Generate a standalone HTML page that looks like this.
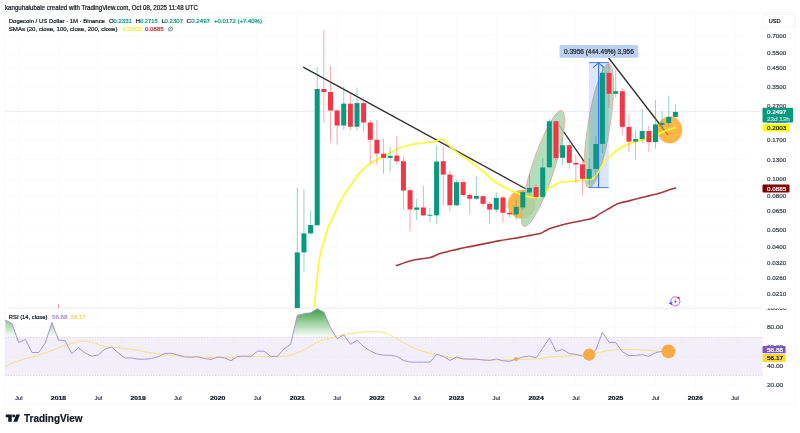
<!DOCTYPE html>
<html><head><meta charset="utf-8"><title>DOGEUSD chart</title>
<style>html,body{margin:0;padding:0;background:#fff;width:800px;height:433px;overflow:hidden}svg{display:block;filter:blur(0.45px)}</style>
</head><body>
<svg width="800" height="433" viewBox="0 0 800 433" font-family="'Liberation Sans', sans-serif">
<defs>
<linearGradient id="gg" gradientUnits="userSpaceOnUse" x1="0" y1="309.75" x2="0" y2="337.4">
<stop offset="0" stop-color="#43a047" stop-opacity="1"/><stop offset="1" stop-color="#4caf50" stop-opacity="0"/>
</linearGradient>
<clipPath id="mainclip"><rect x="5" y="13" width="757" height="295.2"/></clipPath>
<clipPath id="axclip"><rect x="760" y="308.6" width="40" height="20"/></clipPath>
<clipPath id="rsiclip"><rect x="5" y="308.2" width="757" height="80"/></clipPath>
</defs>
<rect width="800" height="433" fill="#fff"/>
<!-- frame -->
<rect x="4.5" y="12.5" width="791" height="391.5" fill="none" stroke="#f7f8fa" stroke-width="1"/>
<rect x="763" y="14.5" width="31.5" height="13" rx="1.5" fill="none" stroke="#f4f5f7" stroke-width="1"/>
<line x1="18.7" y1="13" x2="18.7" y2="388" stroke="#fafbfc" stroke-width="1"/>
<line x1="58.5" y1="13" x2="58.5" y2="388" stroke="#fafbfc" stroke-width="1"/>
<line x1="98.3" y1="13" x2="98.3" y2="388" stroke="#fafbfc" stroke-width="1"/>
<line x1="138.1" y1="13" x2="138.1" y2="388" stroke="#fafbfc" stroke-width="1"/>
<line x1="177.9" y1="13" x2="177.9" y2="388" stroke="#fafbfc" stroke-width="1"/>
<line x1="217.7" y1="13" x2="217.7" y2="388" stroke="#fafbfc" stroke-width="1"/>
<line x1="257.5" y1="13" x2="257.5" y2="388" stroke="#fafbfc" stroke-width="1"/>
<line x1="297.3" y1="13" x2="297.3" y2="388" stroke="#fafbfc" stroke-width="1"/>
<line x1="337.1" y1="13" x2="337.1" y2="388" stroke="#fafbfc" stroke-width="1"/>
<line x1="376.9" y1="13" x2="376.9" y2="388" stroke="#fafbfc" stroke-width="1"/>
<line x1="416.7" y1="13" x2="416.7" y2="388" stroke="#fafbfc" stroke-width="1"/>
<line x1="456.5" y1="13" x2="456.5" y2="388" stroke="#fafbfc" stroke-width="1"/>
<line x1="496.3" y1="13" x2="496.3" y2="388" stroke="#fafbfc" stroke-width="1"/>
<line x1="536.1" y1="13" x2="536.1" y2="388" stroke="#fafbfc" stroke-width="1"/>
<line x1="575.9" y1="13" x2="575.9" y2="388" stroke="#fafbfc" stroke-width="1"/>
<line x1="615.7" y1="13" x2="615.7" y2="388" stroke="#fafbfc" stroke-width="1"/>
<line x1="655.5" y1="13" x2="655.5" y2="388" stroke="#fafbfc" stroke-width="1"/>
<line x1="695.3" y1="13" x2="695.3" y2="388" stroke="#fafbfc" stroke-width="1"/>
<line x1="735.1" y1="13" x2="735.1" y2="388" stroke="#fafbfc" stroke-width="1"/>
<line x1="5" y1="35.6" x2="748" y2="35.6" stroke="#fafbfc" stroke-width="1"/>
<line x1="5" y1="53.4" x2="748" y2="53.4" stroke="#fafbfc" stroke-width="1"/>
<line x1="5" y1="68.2" x2="748" y2="68.2" stroke="#fafbfc" stroke-width="1"/>
<line x1="5" y1="86.7" x2="748" y2="86.7" stroke="#fafbfc" stroke-width="1"/>
<line x1="5" y1="105.8" x2="748" y2="105.8" stroke="#fafbfc" stroke-width="1"/>
<line x1="5" y1="120.9" x2="748" y2="120.9" stroke="#fafbfc" stroke-width="1"/>
<line x1="5" y1="139.9" x2="748" y2="139.9" stroke="#fafbfc" stroke-width="1"/>
<line x1="5" y1="159.7" x2="748" y2="159.7" stroke="#fafbfc" stroke-width="1"/>
<line x1="5" y1="179.1" x2="748" y2="179.1" stroke="#fafbfc" stroke-width="1"/>
<line x1="5" y1="195.5" x2="748" y2="195.5" stroke="#fafbfc" stroke-width="1"/>
<line x1="5" y1="210.8" x2="748" y2="210.8" stroke="#fafbfc" stroke-width="1"/>
<line x1="5" y1="230.2" x2="748" y2="230.2" stroke="#fafbfc" stroke-width="1"/>
<line x1="5" y1="246.6" x2="748" y2="246.6" stroke="#fafbfc" stroke-width="1"/>
<line x1="5" y1="263.1" x2="748" y2="263.1" stroke="#fafbfc" stroke-width="1"/>
<line x1="5" y1="278.4" x2="748" y2="278.4" stroke="#fafbfc" stroke-width="1"/>
<line x1="5" y1="294.1" x2="748" y2="294.1" stroke="#fafbfc" stroke-width="1"/>
<line x1="5" y1="327.4" x2="748" y2="327.4" stroke="#fafbfc" stroke-width="1"/>
<line x1="5" y1="346.6" x2="748" y2="346.6" stroke="#fafbfc" stroke-width="1"/>
<line x1="5" y1="365.8" x2="748" y2="365.8" stroke="#fafbfc" stroke-width="1"/>
<line x1="5" y1="385.0" x2="748" y2="385.0" stroke="#fafbfc" stroke-width="1"/>
<!-- price line -->
<line x1="5" y1="111.3" x2="762" y2="111.3" stroke="#e9ebef" stroke-width="1"/>
<!-- pane separator -->
<line x1="8" y1="308.2" x2="762" y2="308.2" stroke="#e9ebef" stroke-width="1"/>
<!-- RSI band -->
<rect x="5" y="337.4" width="757.5" height="38.0" fill="#f2eefa"/>
<line x1="5" y1="337.4" x2="762.5" y2="337.4" stroke="#d6cdeb" stroke-width="0.9" stroke-dasharray="1.3 1.5"/>
<line x1="5" y1="375.4" x2="762.5" y2="375.4" stroke="#d6cdeb" stroke-width="0.9" stroke-dasharray="1.3 1.5"/>
<line x1="5" y1="356.6" x2="762.5" y2="356.6" stroke="#ebe6f6" stroke-width="0.8" stroke-dasharray="1.6 1.6"/>
<g clip-path="url(#rsiclip)">
<path d="M5.45 337.40 L5.45 320.00 L12.10 323.75 L16.90 337.40 Z" fill="url(#gg)"/>
<path d="M47.07 337.40 L51.90 322.50 L57.52 337.40 Z" fill="url(#gg)"/>
<path d="M292.22 337.40 L297.30 315.40 L303.90 313.70 L310.60 312.80 L317.20 308.80 L323.80 312.00 L330.50 327.50 L336.28 337.40 Z" fill="url(#gg)"/>
<path d="M339.41 337.40 L343.70 334.80 L345.53 337.40 Z" fill="url(#gg)"/>
<path d="M600.47 337.40 L602.40 332.20 L605.78 337.40 Z" fill="url(#gg)"/>
<path d="M5.00 367.00 C6.25 366.33 9.17 364.38 12.50 363.00 C15.83 361.62 20.83 359.98 25.00 358.75 C29.17 357.52 33.33 356.85 37.50 355.60 C41.67 354.35 45.83 352.81 50.00 351.25 C54.17 349.69 58.33 347.71 62.50 346.25 C66.67 344.79 71.92 343.33 75.00 342.50 C78.08 341.67 78.92 341.42 81.00 341.25 C83.08 341.08 85.17 341.21 87.50 341.50 C89.83 341.79 92.92 342.38 95.00 343.00 C97.08 343.62 97.33 344.55 100.00 345.25 C102.67 345.95 107.67 346.74 111.00 347.20 C114.33 347.66 116.00 347.57 120.00 348.00 C124.00 348.43 130.00 348.96 135.00 349.75 C140.00 350.54 145.00 351.96 150.00 352.75 C155.00 353.54 160.00 354.00 165.00 354.50 C170.00 355.00 175.00 355.42 180.00 355.75 C185.00 356.08 190.00 356.21 195.00 356.50 C200.00 356.79 203.33 357.42 210.00 357.50 C216.67 357.58 226.67 357.15 235.00 357.00 C243.33 356.85 252.50 356.70 260.00 356.60 C267.50 356.50 275.00 356.60 280.00 356.40 C285.00 356.20 287.17 355.97 290.00 355.40 C292.83 354.83 294.67 353.90 297.00 353.00 C299.33 352.10 301.75 351.13 304.00 350.00 C306.25 348.87 308.33 347.50 310.50 346.20 C312.67 344.90 314.92 343.23 317.00 342.20 C319.08 341.17 320.83 340.67 323.00 340.00 C325.17 339.33 327.17 338.98 330.00 338.20 C332.83 337.42 336.67 336.07 340.00 335.30 C343.33 334.53 346.67 334.08 350.00 333.60 C353.33 333.12 356.67 332.70 360.00 332.40 C363.33 332.10 367.17 331.90 370.00 331.80 C372.83 331.70 374.50 331.65 377.00 331.80 C379.50 331.95 382.50 331.97 385.00 332.70 C387.50 333.43 389.50 334.87 392.00 336.20 C394.50 337.53 397.00 339.07 400.00 340.70 C403.00 342.33 406.67 344.38 410.00 346.00 C413.33 347.62 416.67 349.22 420.00 350.40 C423.33 351.58 426.67 352.30 430.00 353.10 C433.33 353.90 436.67 354.47 440.00 355.20 C443.33 355.93 446.67 356.92 450.00 357.50 C453.33 358.08 455.83 358.42 460.00 358.70 C464.17 358.98 470.00 359.00 475.00 359.20 C480.00 359.40 485.00 359.77 490.00 359.90 C495.00 360.03 500.00 360.05 505.00 360.00 C510.00 359.95 514.83 359.77 520.00 359.60 C525.17 359.43 531.00 359.43 536.00 359.00 C541.00 358.57 545.17 357.50 550.00 357.00 C554.83 356.50 560.00 356.30 565.00 356.00 C570.00 355.70 575.83 355.42 580.00 355.20 C584.17 354.98 586.67 355.20 590.00 354.70 C593.33 354.20 596.67 352.92 600.00 352.20 C603.33 351.48 606.67 350.85 610.00 350.40 C613.33 349.95 615.83 349.62 620.00 349.50 C624.17 349.38 630.00 349.53 635.00 349.70 C640.00 349.87 645.83 350.25 650.00 350.50 C654.17 350.75 655.77 351.08 660.00 351.20 C664.23 351.32 672.83 351.20 675.40 351.20" fill="none" stroke="#f4e07c" stroke-width="0.95"/>
<polyline points="5.45,320.00 12.10,323.75 18.70,342.50 25.35,339.40 32.00,352.50 38.60,352.50 45.25,343.00 51.90,322.50 58.50,340.00 65.10,340.60 71.80,353.75 78.40,347.75 85.00,353.00 91.70,356.00 98.30,355.00 105.00,349.00 111.60,347.00 118.20,352.75 124.80,358.00 131.50,358.00 138.10,359.20 144.70,359.20 151.40,358.50 158.00,356.80 164.60,353.50 171.30,353.20 177.90,355.00 184.50,357.00 191.20,357.25 197.80,356.80 204.40,358.60 211.10,359.50 217.70,357.00 224.30,357.80 231.00,360.75 237.60,356.40 244.20,356.00 250.90,356.40 257.50,351.20 264.10,351.20 270.80,356.40 277.40,356.40 284.00,349.00 290.70,344.00 297.30,315.40 303.90,313.70 310.60,312.80 317.20,308.80 323.80,312.00 330.50,327.50 337.10,338.80 343.70,334.80 350.40,344.30 357.00,340.20 363.60,346.60 370.30,350.90 376.90,354.00 383.50,355.20 390.20,355.20 396.80,356.40 403.40,360.40 410.10,362.10 416.70,362.10 423.30,362.10 430.00,362.10 436.60,354.40 443.20,356.40 449.90,360.40 456.50,357.00 463.10,359.00 469.80,359.20 476.40,359.20 483.00,360.00 489.70,360.40 496.30,359.00 502.90,360.75 509.60,361.30 516.20,359.00 522.80,357.00 529.50,356.00 536.10,357.80 542.70,348.30 549.40,337.90 556.00,351.40 562.60,349.50 569.30,353.50 575.90,354.40 582.50,356.00 589.20,355.50 595.80,350.00 602.40,332.20 609.10,342.50 615.70,342.50 622.30,351.75 629.00,355.50 635.60,355.50 642.20,354.70 648.90,356.40 655.50,352.60 662.10,351.40 668.80,351.40 675.40,350.40" fill="none" stroke="#a995da" stroke-width="1.0" stroke-linejoin="round"/>
<circle cx="516" cy="359" r="2.1" fill="#f6a43a" opacity="0.9"/>
<circle cx="589.2" cy="354.7" r="6.1" fill="#f6a83c" opacity="0.95"/>
<circle cx="668.4" cy="351.4" r="6.9" fill="#f6a83c" opacity="0.95"/>
</g>
<g clip-path="url(#mainclip)">
<!-- drawings behind candles -->
<line x1="303.2" y1="67.1" x2="526.5" y2="189.2" stroke="#2e2e2e" stroke-width="1.3"/>
<line x1="558.9" y1="124.9" x2="584.4" y2="161.9" stroke="#2e2e2e" stroke-width="1.2"/>
<line x1="608.5" y1="57.75" x2="668" y2="135" stroke="#2e2e2e" stroke-width="1.3"/>
<ellipse cx="521.6" cy="204.4" rx="13.8" ry="14.4" fill="rgba(255,152,0,0.72)"/>
<ellipse cx="669.8" cy="129.9" rx="12.5" ry="13.4" fill="rgba(255,152,0,0.72)"/>
<ellipse cx="542.9" cy="168.5" rx="61" ry="11.3" transform="rotate(-71.9 542.9 168.5)" fill="rgba(162,213,175,0.82)" stroke="rgba(239,150,140,0.7)" stroke-width="0.9"/>
<ellipse cx="598.9" cy="125.8" rx="62.9" ry="11.1" transform="rotate(-80.9 598.9 125.8)" fill="rgba(162,213,175,0.82)" stroke="rgba(239,150,140,0.7)" stroke-width="0.9"/>
<rect x="588.9" y="62.6" width="19.9" height="125" fill="rgba(41,98,255,0.17)"/>
<line x1="588.9" y1="62.6" x2="608.8" y2="62.6" stroke="#4a7df0" stroke-width="1"/>
<line x1="588.9" y1="187.6" x2="608.8" y2="187.6" stroke="#4a7df0" stroke-width="1"/>
<line x1="598.6" y1="62.8" x2="598.6" y2="187.6" stroke="#3a70f0" stroke-width="1.1"/>
<path d="M593 67.6 L598.6 62.9 L604.2 67.6" fill="none" stroke="#3a70f0" stroke-width="1.1"/>
<path d="M396.40 265.60 C398.67 264.83 406.07 262.10 410.00 261.00 C413.93 259.90 416.67 259.57 420.00 259.00 C423.33 258.43 426.67 258.50 430.00 257.60 C433.33 256.70 436.67 254.70 440.00 253.60 C443.33 252.50 446.67 251.83 450.00 251.00 C453.33 250.17 456.67 249.33 460.00 248.60 C463.33 247.87 466.67 247.27 470.00 246.60 C473.33 245.93 476.67 245.27 480.00 244.60 C483.33 243.93 486.67 243.27 490.00 242.60 C493.33 241.93 496.67 241.20 500.00 240.60 C503.33 240.00 506.67 239.53 510.00 239.00 C513.33 238.47 516.67 238.00 520.00 237.40 C523.33 236.80 526.67 236.07 530.00 235.40 C533.33 234.73 537.50 234.13 540.00 233.40 C542.50 232.67 543.33 231.80 545.00 231.00 C546.67 230.20 547.50 229.50 550.00 228.60 C552.50 227.70 556.67 226.53 560.00 225.60 C563.33 224.67 566.67 223.77 570.00 223.00 C573.33 222.23 576.67 221.67 580.00 221.00 C583.33 220.33 587.50 219.67 590.00 219.00 C592.50 218.33 593.33 217.90 595.00 217.00 C596.67 216.10 597.50 215.10 600.00 213.60 C602.50 212.10 607.50 209.43 610.00 208.00 C612.50 206.57 613.33 205.83 615.00 205.00 C616.67 204.17 617.50 203.73 620.00 203.00 C622.50 202.27 626.67 201.43 630.00 200.60 C633.33 199.77 636.67 198.83 640.00 198.00 C643.33 197.17 646.67 196.43 650.00 195.60 C653.33 194.77 656.67 194.00 660.00 193.00 C663.33 192.00 667.40 190.43 670.00 189.60 C672.60 188.77 674.67 188.27 675.60 188.00" fill="none" stroke="#a33a40" stroke-width="1.6" stroke-linecap="round"/>
<path d="M313.75 308.20 C314.17 304.75 315.62 293.03 316.25 287.50 C316.88 281.97 316.88 280.33 317.50 275.00 C318.12 269.67 318.75 261.67 320.00 255.50 C321.25 249.33 323.65 242.70 325.00 238.00 C326.35 233.30 326.72 230.82 328.10 227.30 C329.48 223.78 331.38 221.05 333.30 216.90 C335.22 212.75 337.69 206.22 339.60 202.40 C341.51 198.58 342.85 196.95 344.75 194.00 C346.65 191.05 349.09 187.47 351.00 184.70 C352.91 181.93 354.30 179.83 356.20 177.40 C358.10 174.97 360.32 172.25 362.40 170.10 C364.48 167.95 366.62 166.05 368.70 164.50 C370.78 162.95 372.83 161.93 374.90 160.80 C376.97 159.67 379.42 158.52 381.10 157.70 C382.78 156.88 382.27 157.39 385.00 155.90 C387.73 154.41 393.33 150.57 397.50 148.75 C401.67 146.93 405.83 145.96 410.00 145.00 C414.17 144.04 418.30 143.62 422.50 143.00 C426.70 142.38 431.85 141.92 435.20 141.30 C438.55 140.68 440.05 138.38 442.60 139.30 C445.15 140.22 448.03 144.58 450.50 146.80 C452.97 149.02 454.65 150.57 457.40 152.60 C460.15 154.63 464.07 156.90 467.00 159.00 C469.93 161.10 472.21 163.03 475.00 165.20 C477.79 167.37 481.08 169.74 483.75 172.00 C486.42 174.26 488.29 176.58 491.00 178.75 C493.71 180.92 496.83 183.12 500.00 185.00 C503.17 186.88 506.67 188.47 510.00 190.00 C513.33 191.53 517.17 193.15 520.00 194.20 C522.83 195.25 524.67 195.73 527.00 196.30 C529.33 196.87 532.00 197.43 534.00 197.60 C536.00 197.77 537.17 198.13 539.00 197.30 C540.83 196.47 543.17 194.23 545.00 192.60 C546.83 190.97 548.33 188.77 550.00 187.50 C551.67 186.23 553.17 185.92 555.00 185.00 C556.83 184.08 557.83 182.62 561.00 182.00 C564.17 181.38 570.42 181.58 574.00 181.25 C577.58 180.92 579.42 180.42 582.50 180.00 C585.58 179.58 589.79 180.21 592.50 178.75 C595.21 177.29 596.67 174.17 598.75 171.25 C600.83 168.33 602.96 163.86 605.00 161.25 C607.04 158.64 608.71 157.68 611.00 155.60 C613.29 153.52 616.00 150.62 618.75 148.75 C621.50 146.88 624.38 145.65 627.50 144.40 C630.62 143.15 634.58 142.08 637.50 141.25 C640.42 140.42 642.50 140.12 645.00 139.40 C647.50 138.68 650.00 137.95 652.50 136.90 C655.00 135.85 657.50 134.25 660.00 133.10 C662.50 131.95 664.93 130.93 667.50 130.00 C670.07 129.07 674.08 127.92 675.40 127.50" fill="none" stroke="#fbfb2e" stroke-width="1.7" stroke-linejoin="round"/>
<line x1="297.30" y1="187.75" x2="297.30" y2="308.20" stroke="#089981" stroke-width="0.7" opacity="0.6"/>
<rect x="294.80" y="252.40" width="5.0" height="55.80" fill="#089981"/>
<line x1="303.94" y1="189.00" x2="303.94" y2="271.75" stroke="#089981" stroke-width="0.7" opacity="0.6"/>
<rect x="301.44" y="233.40" width="5.0" height="19.00" fill="#089981"/>
<line x1="310.57" y1="210.90" x2="310.57" y2="235.00" stroke="#089981" stroke-width="0.7" opacity="0.6"/>
<rect x="308.07" y="225.00" width="5.0" height="8.40" fill="#089981"/>
<line x1="317.20" y1="67.50" x2="317.20" y2="226.50" stroke="#089981" stroke-width="0.7" opacity="0.6"/>
<rect x="314.70" y="89.00" width="5.0" height="136.25" fill="#089981"/>
<line x1="323.84" y1="30.00" x2="323.84" y2="122.70" stroke="#f23645" stroke-width="0.7" opacity="0.6"/>
<rect x="321.34" y="89.00" width="5.0" height="3.00" fill="#f23645"/>
<line x1="330.47" y1="66.00" x2="330.47" y2="143.00" stroke="#f23645" stroke-width="0.7" opacity="0.6"/>
<rect x="327.97" y="92.00" width="5.0" height="18.50" fill="#f23645"/>
<line x1="337.10" y1="109.00" x2="337.10" y2="144.50" stroke="#f23645" stroke-width="0.7" opacity="0.6"/>
<rect x="334.60" y="110.50" width="5.0" height="15.00" fill="#f23645"/>
<line x1="343.73" y1="86.50" x2="343.73" y2="130.00" stroke="#089981" stroke-width="0.7" opacity="0.6"/>
<rect x="341.23" y="103.60" width="5.0" height="21.90" fill="#089981"/>
<line x1="350.37" y1="94.00" x2="350.37" y2="130.00" stroke="#f23645" stroke-width="0.7" opacity="0.6"/>
<rect x="347.87" y="103.70" width="5.0" height="23.00" fill="#f23645"/>
<line x1="357.00" y1="87.70" x2="357.00" y2="130.50" stroke="#089981" stroke-width="0.7" opacity="0.6"/>
<rect x="354.50" y="103.10" width="5.0" height="23.60" fill="#089981"/>
<line x1="363.63" y1="97.00" x2="363.63" y2="132.50" stroke="#f23645" stroke-width="0.7" opacity="0.6"/>
<rect x="361.13" y="103.10" width="5.0" height="19.40" fill="#f23645"/>
<line x1="370.27" y1="120.00" x2="370.27" y2="163.00" stroke="#f23645" stroke-width="0.7" opacity="0.6"/>
<rect x="367.77" y="122.50" width="5.0" height="17.25" fill="#f23645"/>
<line x1="376.90" y1="120.00" x2="376.90" y2="164.40" stroke="#f23645" stroke-width="0.7" opacity="0.6"/>
<rect x="374.40" y="139.75" width="5.0" height="13.75" fill="#f23645"/>
<line x1="383.53" y1="138.50" x2="383.53" y2="174.00" stroke="#f23645" stroke-width="0.7" opacity="0.6"/>
<rect x="381.03" y="153.75" width="5.0" height="4.15" fill="#f23645"/>
<line x1="390.17" y1="146.90" x2="390.17" y2="171.50" stroke="#089981" stroke-width="0.7" opacity="0.6"/>
<rect x="387.67" y="155.90" width="5.0" height="2.00" fill="#089981"/>
<line x1="396.80" y1="136.00" x2="396.80" y2="164.20" stroke="#f23645" stroke-width="0.7" opacity="0.6"/>
<rect x="394.30" y="155.60" width="5.0" height="5.65" fill="#f23645"/>
<line x1="403.43" y1="155.60" x2="403.43" y2="210.00" stroke="#f23645" stroke-width="0.7" opacity="0.6"/>
<rect x="400.93" y="161.25" width="5.0" height="29.35" fill="#f23645"/>
<line x1="410.06" y1="187.75" x2="410.06" y2="231.25" stroke="#f23645" stroke-width="0.7" opacity="0.6"/>
<rect x="407.56" y="190.25" width="5.0" height="19.15" fill="#f23645"/>
<line x1="416.70" y1="198.75" x2="416.70" y2="220.00" stroke="#089981" stroke-width="0.7" opacity="0.6"/>
<rect x="414.20" y="207.50" width="5.0" height="2.30" fill="#089981"/>
<line x1="423.33" y1="185.25" x2="423.33" y2="216.25" stroke="#f23645" stroke-width="0.7" opacity="0.6"/>
<rect x="420.83" y="207.50" width="5.0" height="7.90" fill="#f23645"/>
<line x1="429.96" y1="208.10" x2="429.96" y2="222.50" stroke="#089981" stroke-width="0.7" opacity="0.6"/>
<rect x="427.46" y="214.80" width="5.0" height="0.90" fill="#089981"/>
<line x1="436.60" y1="145.60" x2="436.60" y2="223.50" stroke="#089981" stroke-width="0.7" opacity="0.6"/>
<rect x="434.10" y="161.50" width="5.0" height="53.90" fill="#089981"/>
<line x1="443.23" y1="146.25" x2="443.23" y2="205.25" stroke="#f23645" stroke-width="0.7" opacity="0.6"/>
<rect x="440.73" y="161.25" width="5.0" height="13.35" fill="#f23645"/>
<line x1="449.86" y1="170.90" x2="449.86" y2="211.00" stroke="#f23645" stroke-width="0.7" opacity="0.6"/>
<rect x="447.36" y="174.60" width="5.0" height="30.70" fill="#f23645"/>
<line x1="456.50" y1="179.60" x2="456.50" y2="206.00" stroke="#089981" stroke-width="0.7" opacity="0.6"/>
<rect x="454.00" y="182.20" width="5.0" height="23.10" fill="#089981"/>
<line x1="463.13" y1="179.40" x2="463.13" y2="196.50" stroke="#f23645" stroke-width="0.7" opacity="0.6"/>
<rect x="460.63" y="182.10" width="5.0" height="12.90" fill="#f23645"/>
<line x1="469.76" y1="193.00" x2="469.76" y2="215.00" stroke="#f23645" stroke-width="0.7" opacity="0.6"/>
<rect x="467.26" y="195.00" width="5.0" height="3.75" fill="#f23645"/>
<line x1="476.39" y1="176.25" x2="476.39" y2="200.20" stroke="#089981" stroke-width="0.7" opacity="0.6"/>
<rect x="473.89" y="195.90" width="5.0" height="2.85" fill="#089981"/>
<line x1="483.03" y1="194.50" x2="483.03" y2="206.25" stroke="#f23645" stroke-width="0.7" opacity="0.6"/>
<rect x="480.53" y="196.20" width="5.0" height="7.55" fill="#f23645"/>
<line x1="489.66" y1="201.50" x2="489.66" y2="223.75" stroke="#f23645" stroke-width="0.7" opacity="0.6"/>
<rect x="487.16" y="203.75" width="5.0" height="5.85" fill="#f23645"/>
<line x1="496.29" y1="192.20" x2="496.29" y2="212.50" stroke="#089981" stroke-width="0.7" opacity="0.6"/>
<rect x="493.79" y="197.90" width="5.0" height="11.70" fill="#089981"/>
<line x1="502.93" y1="196.00" x2="502.93" y2="222.50" stroke="#f23645" stroke-width="0.7" opacity="0.6"/>
<rect x="500.43" y="197.50" width="5.0" height="15.25" fill="#f23645"/>
<line x1="509.56" y1="210.50" x2="509.56" y2="217.50" stroke="#f23645" stroke-width="0.7" opacity="0.6"/>
<rect x="507.06" y="212.75" width="5.0" height="1.65" fill="#f23645"/>
<line x1="516.19" y1="200.00" x2="516.19" y2="220.00" stroke="#089981" stroke-width="0.7" opacity="0.6"/>
<rect x="513.69" y="206.90" width="5.0" height="7.50" fill="#089981"/>
<line x1="522.83" y1="189.50" x2="522.83" y2="209.60" stroke="#089981" stroke-width="0.7" opacity="0.6"/>
<rect x="520.33" y="192.10" width="5.0" height="15.40" fill="#089981"/>
<line x1="529.46" y1="174.00" x2="529.46" y2="194.50" stroke="#089981" stroke-width="0.7" opacity="0.6"/>
<rect x="526.96" y="187.90" width="5.0" height="4.60" fill="#089981"/>
<line x1="536.09" y1="184.50" x2="536.09" y2="200.20" stroke="#f23645" stroke-width="0.7" opacity="0.6"/>
<rect x="533.59" y="187.10" width="5.0" height="9.80" fill="#f23645"/>
<line x1="542.72" y1="158.00" x2="542.72" y2="198.30" stroke="#089981" stroke-width="0.7" opacity="0.6"/>
<rect x="540.22" y="167.50" width="5.0" height="29.40" fill="#089981"/>
<line x1="549.36" y1="118.75" x2="549.36" y2="167.50" stroke="#089981" stroke-width="0.7" opacity="0.6"/>
<rect x="546.86" y="121.25" width="5.0" height="46.05" fill="#089981"/>
<line x1="555.99" y1="120.90" x2="555.99" y2="160.80" stroke="#f23645" stroke-width="0.7" opacity="0.6"/>
<rect x="553.49" y="121.25" width="5.0" height="36.85" fill="#f23645"/>
<line x1="562.62" y1="137.50" x2="562.62" y2="165.00" stroke="#089981" stroke-width="0.7" opacity="0.6"/>
<rect x="560.12" y="145.25" width="5.0" height="12.55" fill="#089981"/>
<line x1="569.26" y1="141.70" x2="569.26" y2="168.75" stroke="#f23645" stroke-width="0.7" opacity="0.6"/>
<rect x="566.76" y="145.25" width="5.0" height="17.65" fill="#f23645"/>
<line x1="575.89" y1="155.00" x2="575.89" y2="183.00" stroke="#f23645" stroke-width="0.7" opacity="0.6"/>
<rect x="573.39" y="162.90" width="5.0" height="1.70" fill="#f23645"/>
<line x1="582.52" y1="160.30" x2="582.52" y2="195.60" stroke="#f23645" stroke-width="0.7" opacity="0.6"/>
<rect x="580.02" y="164.40" width="5.0" height="14.35" fill="#f23645"/>
<line x1="589.16" y1="158.00" x2="589.16" y2="183.75" stroke="#089981" stroke-width="0.7" opacity="0.6"/>
<rect x="586.66" y="169.10" width="5.0" height="9.65" fill="#089981"/>
<line x1="595.79" y1="136.25" x2="595.79" y2="177.60" stroke="#089981" stroke-width="0.7" opacity="0.6"/>
<rect x="593.29" y="144.00" width="5.0" height="24.90" fill="#089981"/>
<line x1="602.42" y1="65.00" x2="602.42" y2="153.20" stroke="#089981" stroke-width="0.7" opacity="0.6"/>
<rect x="599.92" y="72.90" width="5.0" height="71.00" fill="#089981"/>
<line x1="609.05" y1="63.00" x2="609.05" y2="108.00" stroke="#f23645" stroke-width="0.7" opacity="0.6"/>
<rect x="606.55" y="72.90" width="5.0" height="20.85" fill="#f23645"/>
<line x1="615.69" y1="70.00" x2="615.69" y2="97.50" stroke="#089981" stroke-width="0.7" opacity="0.6"/>
<rect x="613.19" y="91.25" width="5.0" height="2.50" fill="#089981"/>
<line x1="622.32" y1="88.00" x2="622.32" y2="135.00" stroke="#f23645" stroke-width="0.7" opacity="0.6"/>
<rect x="619.82" y="91.25" width="5.0" height="35.65" fill="#f23645"/>
<line x1="628.95" y1="113.75" x2="628.95" y2="151.90" stroke="#f23645" stroke-width="0.7" opacity="0.6"/>
<rect x="626.45" y="126.90" width="5.0" height="14.70" fill="#f23645"/>
<line x1="635.59" y1="130.00" x2="635.59" y2="159.40" stroke="#089981" stroke-width="0.7" opacity="0.6"/>
<rect x="633.09" y="139.10" width="5.0" height="2.50" fill="#089981"/>
<line x1="642.22" y1="108.75" x2="642.22" y2="143.00" stroke="#089981" stroke-width="0.7" opacity="0.6"/>
<rect x="639.72" y="131.00" width="5.0" height="8.10" fill="#089981"/>
<line x1="648.85" y1="125.60" x2="648.85" y2="151.90" stroke="#f23645" stroke-width="0.7" opacity="0.6"/>
<rect x="646.35" y="131.00" width="5.0" height="11.10" fill="#f23645"/>
<line x1="655.49" y1="100.00" x2="655.49" y2="148.75" stroke="#089981" stroke-width="0.7" opacity="0.6"/>
<rect x="652.99" y="124.40" width="5.0" height="17.70" fill="#089981"/>
<line x1="662.12" y1="111.25" x2="662.12" y2="130.00" stroke="#089981" stroke-width="0.7" opacity="0.6"/>
<rect x="659.62" y="122.90" width="5.0" height="1.85" fill="#089981"/>
<line x1="668.75" y1="95.60" x2="668.75" y2="126.90" stroke="#089981" stroke-width="0.7" opacity="0.6"/>
<rect x="666.25" y="116.90" width="5.0" height="6.20" fill="#089981"/>
<line x1="675.38" y1="104.40" x2="675.38" y2="117.90" stroke="#089981" stroke-width="0.7" opacity="0.6"/>
<rect x="672.88" y="111.90" width="5.0" height="5.00" fill="#089981"/>
<line x1="58.52" y1="304.4" x2="58.52" y2="308.2" stroke="#f23645" stroke-width="0.7" opacity="0.75"/>
</g>
<!-- measure label -->
<rect x="559.5" y="45" width="78.8" height="12.8" rx="1.5" fill="#bccff0"/>
<text x="564" y="54.2" font-size="6.4" fill="#20242e" stroke="#20242e" stroke-width="0.22" text-anchor="start" font-weight="normal" textLength="69.8" lengthAdjust="spacingAndGlyphs" >0.3956 (444.49%) 3,956</text>
<!-- replay icon -->
<g>
<circle cx="675.3" cy="301.4" r="4.6" fill="none" stroke="#a63fd0" stroke-width="0.8"/>
<path d="M676.2 298.6 L673.9 301.8 L675.4 301.8 L674.5 304.4 L676.9 301 L675.4 301 Z" fill="#a63fd0"/>
<path d="M668.6 303.2 L672.4 301.6 L672 305.2 Z" fill="#5b5bff"/>
<circle cx="678.5" cy="298" r="1.2" fill="#f23645"/>
</g>
<!-- price axis -->
<text x="767.1" y="37.6" font-size="6.25" fill="#3a3e4a" stroke="#3a3e4a" stroke-width="0.22" text-anchor="start" font-weight="normal" textLength="19.2" lengthAdjust="spacingAndGlyphs" >0.7000</text>
<text x="767.1" y="55.3" font-size="6.25" fill="#3a3e4a" stroke="#3a3e4a" stroke-width="0.22" text-anchor="start" font-weight="normal" textLength="19.2" lengthAdjust="spacingAndGlyphs" >0.5500</text>
<text x="767.1" y="70.1" font-size="6.25" fill="#3a3e4a" stroke="#3a3e4a" stroke-width="0.22" text-anchor="start" font-weight="normal" textLength="19.2" lengthAdjust="spacingAndGlyphs" >0.4500</text>
<text x="767.1" y="88.7" font-size="6.25" fill="#3a3e4a" stroke="#3a3e4a" stroke-width="0.22" text-anchor="start" font-weight="normal" textLength="19.2" lengthAdjust="spacingAndGlyphs" >0.3500</text>
<text x="767.1" y="107.8" font-size="6.25" fill="#3a3e4a" stroke="#3a3e4a" stroke-width="0.22" text-anchor="start" font-weight="normal" textLength="19.2" lengthAdjust="spacingAndGlyphs" >0.2700</text>
<text x="767.1" y="122.9" font-size="6.25" fill="#3a3e4a" stroke="#3a3e4a" stroke-width="0.22" text-anchor="start" font-weight="normal" textLength="19.2" lengthAdjust="spacingAndGlyphs" >0.2200</text>
<text x="767.1" y="141.9" font-size="6.25" fill="#3a3e4a" stroke="#3a3e4a" stroke-width="0.22" text-anchor="start" font-weight="normal" textLength="19.2" lengthAdjust="spacingAndGlyphs" >0.1700</text>
<text x="767.1" y="161.7" font-size="6.25" fill="#3a3e4a" stroke="#3a3e4a" stroke-width="0.22" text-anchor="start" font-weight="normal" textLength="19.2" lengthAdjust="spacingAndGlyphs" >0.1300</text>
<text x="767.1" y="181.0" font-size="6.25" fill="#3a3e4a" stroke="#3a3e4a" stroke-width="0.22" text-anchor="start" font-weight="normal" textLength="19.2" lengthAdjust="spacingAndGlyphs" >0.1000</text>
<text x="767.1" y="197.5" font-size="6.25" fill="#3a3e4a" stroke="#3a3e4a" stroke-width="0.22" text-anchor="start" font-weight="normal" textLength="19.2" lengthAdjust="spacingAndGlyphs" >0.0800</text>
<text x="767.1" y="212.8" font-size="6.25" fill="#3a3e4a" stroke="#3a3e4a" stroke-width="0.22" text-anchor="start" font-weight="normal" textLength="19.2" lengthAdjust="spacingAndGlyphs" >0.0650</text>
<text x="767.1" y="232.1" font-size="6.25" fill="#3a3e4a" stroke="#3a3e4a" stroke-width="0.22" text-anchor="start" font-weight="normal" textLength="19.2" lengthAdjust="spacingAndGlyphs" >0.0500</text>
<text x="767.1" y="248.6" font-size="6.25" fill="#3a3e4a" stroke="#3a3e4a" stroke-width="0.22" text-anchor="start" font-weight="normal" textLength="19.2" lengthAdjust="spacingAndGlyphs" >0.0400</text>
<text x="767.1" y="265.0" font-size="6.25" fill="#3a3e4a" stroke="#3a3e4a" stroke-width="0.22" text-anchor="start" font-weight="normal" textLength="19.2" lengthAdjust="spacingAndGlyphs" >0.0320</text>
<text x="767.1" y="280.3" font-size="6.25" fill="#3a3e4a" stroke="#3a3e4a" stroke-width="0.22" text-anchor="start" font-weight="normal" textLength="19.2" lengthAdjust="spacingAndGlyphs" >0.0260</text>
<text x="767.1" y="296.1" font-size="6.25" fill="#3a3e4a" stroke="#3a3e4a" stroke-width="0.22" text-anchor="start" font-weight="normal" textLength="19.2" lengthAdjust="spacingAndGlyphs" >0.0210</text>
<text x="768.7" y="23.4" font-size="6.0" fill="#131722" stroke="#131722" stroke-width="0.22" text-anchor="start" font-weight="normal" textLength="12" lengthAdjust="spacingAndGlyphs" >USD</text>
<text x="766.9" y="310.2" font-size="6.25" fill="#3a3e4a" stroke="#3a3e4a" stroke-width="0.22" text-anchor="start" font-weight="normal" textLength="19.6" lengthAdjust="spacingAndGlyphs" clip-path="url(#axclip)">100.00</text>
<text x="766.9" y="329.4" font-size="6.25" fill="#3a3e4a" stroke="#3a3e4a" stroke-width="0.22" text-anchor="start" font-weight="normal" textLength="16.3" lengthAdjust="spacingAndGlyphs" >80.00</text>
<text x="766.9" y="348.6" font-size="6.25" fill="#3a3e4a" stroke="#3a3e4a" stroke-width="0.22" text-anchor="start" font-weight="normal" textLength="16.3" lengthAdjust="spacingAndGlyphs" >60.00</text>
<text x="766.9" y="367.8" font-size="6.25" fill="#3a3e4a" stroke="#3a3e4a" stroke-width="0.22" text-anchor="start" font-weight="normal" textLength="16.3" lengthAdjust="spacingAndGlyphs" >40.00</text>
<text x="766.9" y="387.0" font-size="6.25" fill="#3a3e4a" stroke="#3a3e4a" stroke-width="0.22" text-anchor="start" font-weight="normal" textLength="16.3" lengthAdjust="spacingAndGlyphs" >20.00</text>
<!-- labels -->
<rect x="762.5" y="107.75" width="30.5" height="14.75" rx="1" fill="#089981"/>
<text x="767.1" y="114.1" font-size="6.25" fill="#ffffff" stroke="#ffffff" stroke-width="0.22" text-anchor="start" font-weight="normal" textLength="19.2" lengthAdjust="spacingAndGlyphs" >0.2497</text>
<text x="767.1" y="121" font-size="6.0" fill="#b5e0d8" stroke="#b5e0d8" stroke-width="0.22" text-anchor="start" font-weight="normal" textLength="22.8" lengthAdjust="spacingAndGlyphs" >23d 13h</text>
<rect x="762.5" y="124.1" width="27" height="7.3" rx="1" fill="#ffff00"/>
<text x="767.1" y="130" font-size="6.25" fill="#131722" stroke="#131722" stroke-width="0.22" text-anchor="start" font-weight="normal" textLength="19.2" lengthAdjust="spacingAndGlyphs" >0.2003</text>
<rect x="762.5" y="184.6" width="27" height="7.9" rx="1" fill="#800000"/>
<text x="767.1" y="190.8" font-size="6.25" fill="#ffffff" stroke="#ffffff" stroke-width="0.22" text-anchor="start" font-weight="normal" textLength="19.2" lengthAdjust="spacingAndGlyphs" >0.0885</text>
<rect x="762.5" y="346" width="23.1" height="7.2" rx="1" fill="#7e57c2"/>
<text x="766.9" y="351.9" font-size="6.25" fill="#ffffff" stroke="#ffffff" stroke-width="0.22" text-anchor="start" font-weight="normal" textLength="16.3" lengthAdjust="spacingAndGlyphs" >56.88</text>
<rect x="762.5" y="354.1" width="23.1" height="7.9" rx="1" fill="#fdd835"/>
<text x="766.9" y="360.2" font-size="6.25" fill="#131722" stroke="#131722" stroke-width="0.22" text-anchor="start" font-weight="normal" textLength="16.3" lengthAdjust="spacingAndGlyphs" >56.17</text>
<!-- time axis -->
<text x="18.7" y="399.7" font-size="6.0" fill="#3a3e4a" stroke="#3a3e4a" stroke-width="0.22" text-anchor="middle" font-weight="normal" textLength="7.6" lengthAdjust="spacingAndGlyphs" >Jul</text>
<text x="58.5" y="399.7" font-size="6.2" fill="#131722" stroke="#131722" stroke-width="0.22" text-anchor="middle" font-weight="bold" textLength="15.3" lengthAdjust="spacingAndGlyphs" >2018</text>
<text x="98.3" y="399.7" font-size="6.0" fill="#3a3e4a" stroke="#3a3e4a" stroke-width="0.22" text-anchor="middle" font-weight="normal" textLength="7.6" lengthAdjust="spacingAndGlyphs" >Jul</text>
<text x="138.1" y="399.7" font-size="6.2" fill="#131722" stroke="#131722" stroke-width="0.22" text-anchor="middle" font-weight="bold" textLength="15.3" lengthAdjust="spacingAndGlyphs" >2019</text>
<text x="177.9" y="399.7" font-size="6.0" fill="#3a3e4a" stroke="#3a3e4a" stroke-width="0.22" text-anchor="middle" font-weight="normal" textLength="7.6" lengthAdjust="spacingAndGlyphs" >Jul</text>
<text x="217.7" y="399.7" font-size="6.2" fill="#131722" stroke="#131722" stroke-width="0.22" text-anchor="middle" font-weight="bold" textLength="15.3" lengthAdjust="spacingAndGlyphs" >2020</text>
<text x="257.5" y="399.7" font-size="6.0" fill="#3a3e4a" stroke="#3a3e4a" stroke-width="0.22" text-anchor="middle" font-weight="normal" textLength="7.6" lengthAdjust="spacingAndGlyphs" >Jul</text>
<text x="297.3" y="399.7" font-size="6.2" fill="#131722" stroke="#131722" stroke-width="0.22" text-anchor="middle" font-weight="bold" textLength="15.3" lengthAdjust="spacingAndGlyphs" >2021</text>
<text x="337.1" y="399.7" font-size="6.0" fill="#3a3e4a" stroke="#3a3e4a" stroke-width="0.22" text-anchor="middle" font-weight="normal" textLength="7.6" lengthAdjust="spacingAndGlyphs" >Jul</text>
<text x="376.9" y="399.7" font-size="6.2" fill="#131722" stroke="#131722" stroke-width="0.22" text-anchor="middle" font-weight="bold" textLength="15.3" lengthAdjust="spacingAndGlyphs" >2022</text>
<text x="416.7" y="399.7" font-size="6.0" fill="#3a3e4a" stroke="#3a3e4a" stroke-width="0.22" text-anchor="middle" font-weight="normal" textLength="7.6" lengthAdjust="spacingAndGlyphs" >Jul</text>
<text x="456.5" y="399.7" font-size="6.2" fill="#131722" stroke="#131722" stroke-width="0.22" text-anchor="middle" font-weight="bold" textLength="15.3" lengthAdjust="spacingAndGlyphs" >2023</text>
<text x="496.3" y="399.7" font-size="6.0" fill="#3a3e4a" stroke="#3a3e4a" stroke-width="0.22" text-anchor="middle" font-weight="normal" textLength="7.6" lengthAdjust="spacingAndGlyphs" >Jul</text>
<text x="536.1" y="399.7" font-size="6.2" fill="#131722" stroke="#131722" stroke-width="0.22" text-anchor="middle" font-weight="bold" textLength="15.3" lengthAdjust="spacingAndGlyphs" >2024</text>
<text x="575.9" y="399.7" font-size="6.0" fill="#3a3e4a" stroke="#3a3e4a" stroke-width="0.22" text-anchor="middle" font-weight="normal" textLength="7.6" lengthAdjust="spacingAndGlyphs" >Jul</text>
<text x="615.7" y="399.7" font-size="6.2" fill="#131722" stroke="#131722" stroke-width="0.22" text-anchor="middle" font-weight="bold" textLength="15.3" lengthAdjust="spacingAndGlyphs" >2025</text>
<text x="655.5" y="399.7" font-size="6.0" fill="#3a3e4a" stroke="#3a3e4a" stroke-width="0.22" text-anchor="middle" font-weight="normal" textLength="7.6" lengthAdjust="spacingAndGlyphs" >Jul</text>
<text x="695.3" y="399.7" font-size="6.2" fill="#131722" stroke="#131722" stroke-width="0.22" text-anchor="middle" font-weight="bold" textLength="15.3" lengthAdjust="spacingAndGlyphs" >2026</text>
<text x="735.1" y="399.7" font-size="6.0" fill="#3a3e4a" stroke="#3a3e4a" stroke-width="0.22" text-anchor="middle" font-weight="normal" textLength="7.6" lengthAdjust="spacingAndGlyphs" >Jul</text>
<!-- header -->
<text x="5" y="10" font-size="6.35" fill="#131722" stroke="#131722" stroke-width="0.22" text-anchor="start" font-weight="normal" textLength="193" lengthAdjust="spacingAndGlyphs" >kanguhalubale created with TradingView.com, Oct 08, 2025 11:48 UTC</text>
<text x="8.75" y="23" font-size="6.25" fill="#131722" stroke="#131722" stroke-width="0.22" text-anchor="start" font-weight="normal" textLength="96.2" lengthAdjust="spacingAndGlyphs" >Dogecoin / US Dollar · 1M · Binance</text>
<text x="109" y="23" font-size="6.25" fill="#131722" stroke="#131722" stroke-width="0.22" text-anchor="start" font-weight="normal" >O</text><text x="113.5" y="23" font-size="6.25" fill="#089981" stroke="#089981" stroke-width="0.22" text-anchor="start" font-weight="normal" textLength="18.4" lengthAdjust="spacingAndGlyphs" >0.2331</text>
<text x="135.6" y="23" font-size="6.25" fill="#131722" stroke="#131722" stroke-width="0.22" text-anchor="start" font-weight="normal" >H</text><text x="140" y="23" font-size="6.25" fill="#089981" stroke="#089981" stroke-width="0.22" text-anchor="start" font-weight="normal" textLength="17.6" lengthAdjust="spacingAndGlyphs" >0.2715</text>
<text x="161.5" y="23" font-size="6.25" fill="#131722" stroke="#131722" stroke-width="0.22" text-anchor="start" font-weight="normal" >L</text><text x="164.6" y="23" font-size="6.25" fill="#089981" stroke="#089981" stroke-width="0.22" text-anchor="start" font-weight="normal" textLength="18.4" lengthAdjust="spacingAndGlyphs" >0.2307</text>
<text x="186.6" y="23" font-size="6.25" fill="#131722" stroke="#131722" stroke-width="0.22" text-anchor="start" font-weight="normal" >C</text><text x="191.2" y="23" font-size="6.25" fill="#089981" stroke="#089981" stroke-width="0.22" text-anchor="start" font-weight="normal" textLength="18.8" lengthAdjust="spacingAndGlyphs" >0.2497</text>
<text x="214" y="23" font-size="6.25" fill="#089981" stroke="#089981" stroke-width="0.22" text-anchor="start" font-weight="normal" textLength="47.9" lengthAdjust="spacingAndGlyphs" >+0.0172 (+7.40%)</text>
<text x="8.75" y="31.2" font-size="6.25" fill="#131722" stroke="#131722" stroke-width="0.22" text-anchor="start" font-weight="normal" textLength="108.7" lengthAdjust="spacingAndGlyphs" >SMAs (20, close, 100, close, 200, close)</text>
<text x="122.5" y="31.2" font-size="6.25" fill="#f1f116" stroke="#f1f116" stroke-width="0.22" text-anchor="start" font-weight="normal" textLength="18.7" lengthAdjust="spacingAndGlyphs" >0.2003</text>
<text x="145" y="31.2" font-size="6.25" fill="#b03038" stroke="#b03038" stroke-width="0.22" text-anchor="start" font-weight="normal" textLength="18.7" lengthAdjust="spacingAndGlyphs" >0.0885</text>
<text x="168" y="31.2" font-size="6.0" fill="#6a6d78" stroke="#6a6d78" stroke-width="0.22" text-anchor="start" font-weight="normal" >∅</text>
<!-- RSI legend -->
<text x="8.75" y="318.5" font-size="6.2" fill="#131722" stroke="#131722" stroke-width="0.22" text-anchor="start" font-weight="normal" textLength="38.7" lengthAdjust="spacingAndGlyphs" >RSI (14, close)</text>
<text x="52" y="318.5" font-size="6.2" fill="#a48fd6" stroke="#a48fd6" stroke-width="0.22" text-anchor="start" font-weight="normal" textLength="15.5" lengthAdjust="spacingAndGlyphs" >56.88</text>
<text x="71" y="318.5" font-size="6.2" fill="#f0d860" stroke="#f0d860" stroke-width="0.22" text-anchor="start" font-weight="normal" textLength="14.6" lengthAdjust="spacingAndGlyphs" >56.17</text>
<!-- TradingView logo -->
<g fill="#131722">
<path d="M5.75 414.5 h6 v7.25 h-3.5 v-4.5 h-2.5 Z"/>
<circle cx="13.6" cy="416" r="1.45"/>
<path d="M16.1 414.5 h3.9 l-2.8 7.25 h-3.8 Z"/>
</g>
<text x="24" y="421.8" font-size="10.3" fill="#131722" stroke="#131722" stroke-width="0.22" text-anchor="start" font-weight="bold" textLength="58.5" lengthAdjust="spacingAndGlyphs" >TradingView</text>
</svg>
</body></html>
